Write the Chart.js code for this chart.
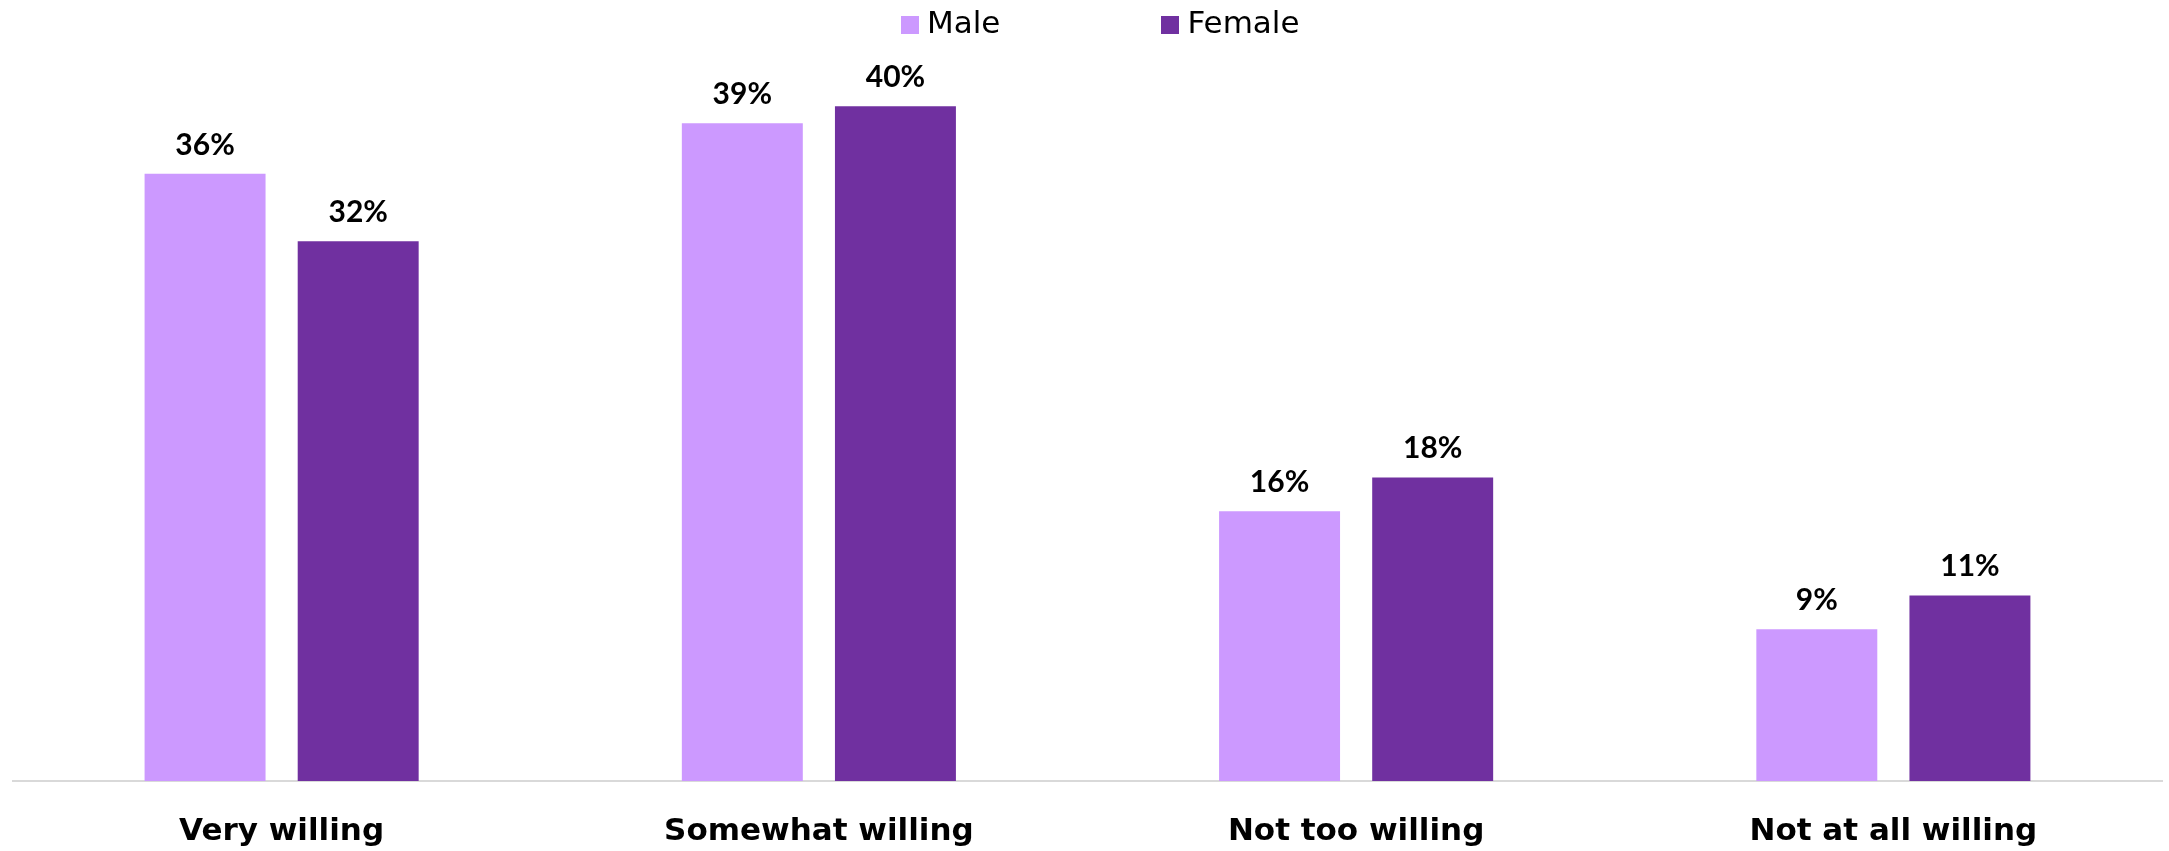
<!DOCTYPE html>
<html>
<head>
<meta charset="utf-8">
<script src="https://cdn.jsdelivr.net/npm/chart.js@4.4.1/dist/chart.umd.min.js"></script>
<style>
  html, body { margin: 0; padding: 0; background: #fff; }
  #wrap { position: relative; width: 2169px; height: 851px; }
  #legend { position: absolute; top: 4px; left: 901px; display: flex; gap: 161px;
            font-family: "DejaVu Sans", sans-serif; font-size: 31px; color: #000; line-height: 36px; }
  #legend .item { display: flex; align-items: center; }
  #legend .box { width: 18px; height: 18px; margin-right: 8px; margin-top: 6px; }
</style>
</head>
<body>
<div id="wrap">
  <canvas id="bar-chart" width="2169" height="851"></canvas>
  <div id="legend"></div>
</div>
<script>
var categories = ["Very willing", "Somewhat willing", "Not too willing", "Not at all willing"];
var seriesNames = ["Male", "Female"];
var maleValues = [36, 39, 16, 9];
var femaleValues = [32, 40, 18, 11];
var seriesColors = ["#cc99ff", "#7030a0"];

// draws the "36%" style labels above each bar
var valueLabels = {
  id: 'valueLabels',
  afterDatasetsDraw: function(chart) {
    var ctx = chart.ctx;
    ctx.save();
    ctx.font = 'bold 30px Lato';
    ctx.fillStyle = '#000';
    ctx.textAlign = 'center';
    ctx.textBaseline = 'alphabetic';
    chart.data.datasets.forEach(function(ds, i) {
      chart.getDatasetMeta(i).data.forEach(function(bar, j) {
        ctx.fillText(ds.data[j] + '%', bar.x, bar.y - 19);
      });
    });
    ctx.restore();
  }
};

var chart = new Chart(document.getElementById("bar-chart"), {
  type: 'bar',
  data: {
    labels: categories,
    datasets: [
      { label: seriesNames[0], data: maleValues, backgroundColor: seriesColors[0] },
      { label: seriesNames[1], data: femaleValues, backgroundColor: seriesColors[1] }
    ]
  },
  options: {
    responsive: false,
    animation: false,
    categoryPercentage: 0.57,
    barPercentage: 0.79,
    layout: { padding: { top: 22, left: 13, right: 7, bottom: 0 } },
    plugins: {
      legend: { display: false },
      tooltip: { enabled: false }
    },
    scales: {
      x: {
        grid: { display: false, drawTicks: false },
        border: { display: true, color: '#d9d9d9', width: 2 },
        ticks: {
          color: '#000',
          padding: 32,
          font: { family: 'DejaVu Sans', size: 31, weight: 'bold' }
        },
        afterFit: function(scale) { scale.height = 70; }
      },
      y: {
        display: false,
        min: 0,
        max: 45
      }
    }
  },
  plugins: [valueLabels]
});

// legend built from the same series arrays
var legend = document.getElementById('legend');
seriesNames.forEach(function(name, i) {
  var item = document.createElement('div');
  item.className = 'item';
  var box = document.createElement('span');
  box.className = 'box';
  box.style.background = seriesColors[i];
  item.appendChild(box);
  item.appendChild(document.createTextNode(name));
  legend.appendChild(item);
});
</script>
</body>
</html>
